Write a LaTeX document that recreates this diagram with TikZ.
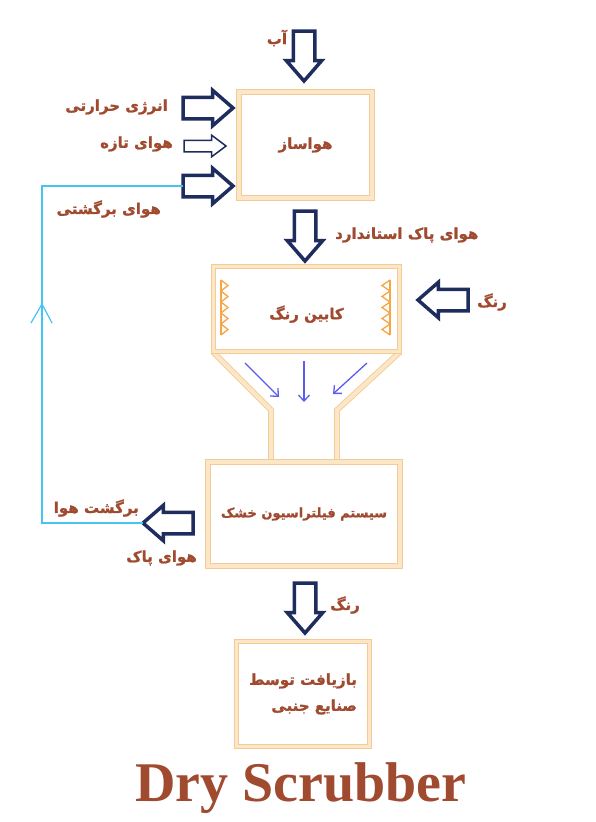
\documentclass[tikz,border=0pt]{standalone}
\usepackage{fontspec}
\setmainfont{Liberation Serif}
\newfontfamily\fa[Script=Arabic,BoldFeatures={FakeBold=1.2}]{DejaVu Sans}
\TeXXeTstate=1
\usepackage{tikz}
\usetikzlibrary{arrows,arrows.meta,shapes.arrows,positioning}
\definecolor{navy}{HTML}{1F2D5E}
\definecolor{brick}{HTML}{A04A30}
\definecolor{peach}{HTML}{FCE6C8}
\definecolor{tan}{HTML}{F2CC94}
\definecolor{sky}{HTML}{45C4F2}
\definecolor{flow}{HTML}{5C5CF0}
\definecolor{spray}{HTML}{F7A645}
\newcommand{\fatext}[1]{\beginR #1\endR}

\begin{document}
\begin{tikzpicture}[x=1pt,y=-1pt,
  unit node/.style={rectangle,draw=tan,double=peach,double distance=3.5pt,line width=0.8pt,fill=white,
    font=\fa\bfseries\fontsize{15}{26}\selectfont,text=brick,align=center},
  big arrow/.style={single arrow,draw=navy,fill=white,line width=3.5pt,minimum height=50pt,minimum width=32pt,
    inner sep=9pt,single arrow head extend=7pt,single arrow tip angle=82,outer sep=0pt,anchor=tip},
  thin arrow/.style={single arrow,draw=navy,fill=white,line width=1.5pt,minimum height=42pt,minimum width=20pt,
    inner sep=5pt,single arrow head extend=5pt,single arrow tip angle=74,outer sep=0pt,anchor=tip},
  lbl/.style={font=\fa\bfseries\fontsize{15}{18}\selectfont,text=brick,inner sep=0pt},
  wall/.style={draw=tan,double=peach,double distance=4pt,line width=0.9pt},
  ret/.style={draw=sky,line width=1.2pt},
  fall/.style={-{Straight Barb[length=6pt,width=11pt]},draw=flow,line width=1.3pt},
  nozzle/.style={draw=spray,line width=1.3pt}]
  \useasboundingbox[fill=white] (0,0) rectangle (595,822);

  % funnel between booth and filter
  \draw[wall] (213,352) -- (271,410) -- (271,462);
  \draw[wall] (400,352) -- (337,410) -- (337,462);

  \node[unit node,minimum width=133pt,minimum height=106pt] (ahu) at (305.5,145) {\fatext{هواساز}};
  \node[unit node,minimum width=186pt,minimum height=85pt,text height=24pt] (booth) at (306.5,309) {\fatext{کابین رنگ}};
  \node[unit node,minimum width=192pt,minimum height=104pt,font=\fa\bfseries\fontsize{13}{16}\selectfont] (filter) at (304,514) {\fatext{سیستم فیلتراسیون خشک}};
  \node[unit node,minimum width=133pt,minimum height=105pt,align=right] (reuse) at (303,694)
    {\fatext{بازیافت توسط}\\\fatext{صنایع جنبی}};

  % spray nozzles in booth
  \draw[nozzle] (221,280) -- (221,335);
  \draw[nozzle] (390,280) -- (390,335);
  \foreach \y in {280,291,302,313,324} {
    \draw[nozzle] (221,\y) -- (228,\y+5.5) -- (221,\y+11);
    \draw[nozzle] (390,\y) -- (382,\y+5.5) -- (390,\y+11);
  }

  % air falling into funnel
  \draw[fall] (245,363) -- (279,397);
  \draw[fall] (304,361) -- (304,402);
  \draw[fall] (367,363) -- (333,394);

  % block arrows
  \node[big arrow,shape border rotate=270] (water) at (304,81) {};
  \node[big arrow] (heat) at (233,108) {};
  \node[thin arrow] (fresh) at (226,146) {};
  \node[big arrow] (back) at (233,186) {};
  \node[big arrow,shape border rotate=270] (clean) at (305,261) {};
  \node[big arrow,shape border rotate=180] (paint) at (418,300) {};
  \node[big arrow,shape border rotate=180] (out) at (143,523) {};
  \node[big arrow,shape border rotate=270] (waste) at (305,633) {};

  % labels
  \node[lbl] (waterl) at (277,38) {\fatext{آب}};
  \node[lbl,anchor=east] (heatl) at (168,107) {\fatext{انرژی حرارتی}};
  \node[lbl,anchor=east] (freshl) at (173,144) {\fatext{هوای تازه}};
  \node[lbl,anchor=east] (backl) at (161,209) {\fatext{هوای برگشتی}};
  \node[lbl,anchor=west] (cleanl) at (335,235) {\fatext{هوای پاک استاندارد}};
  \node[lbl,anchor=west] (paintl) at (477,302) {\fatext{رنگ}};
  \node[lbl,anchor=east] (outl) at (139,508) {\fatext{برگشت هوا}};
  \node[lbl,anchor=east] (cleanoutl) at (197,558) {\fatext{هوای پاک}};
  \node[lbl] (wastel) at (345,605) {\fatext{رنگ}};

  % return air line
  \coordinate (low) at (42,523);
  \coordinate (high) at (42,186);
  \draw[ret] (out.tip) -- (low) -- (high) -- (back.tail);
  \draw[ret] (31,323) -- (42,304) -- (52,323);

  \node[font=\bfseries\fontsize{56}{60}\selectfont,text=brick,anchor=base,inner sep=0pt] (title) at (301,801) {Dry Scrubber};
\end{tikzpicture}
\end{document}
